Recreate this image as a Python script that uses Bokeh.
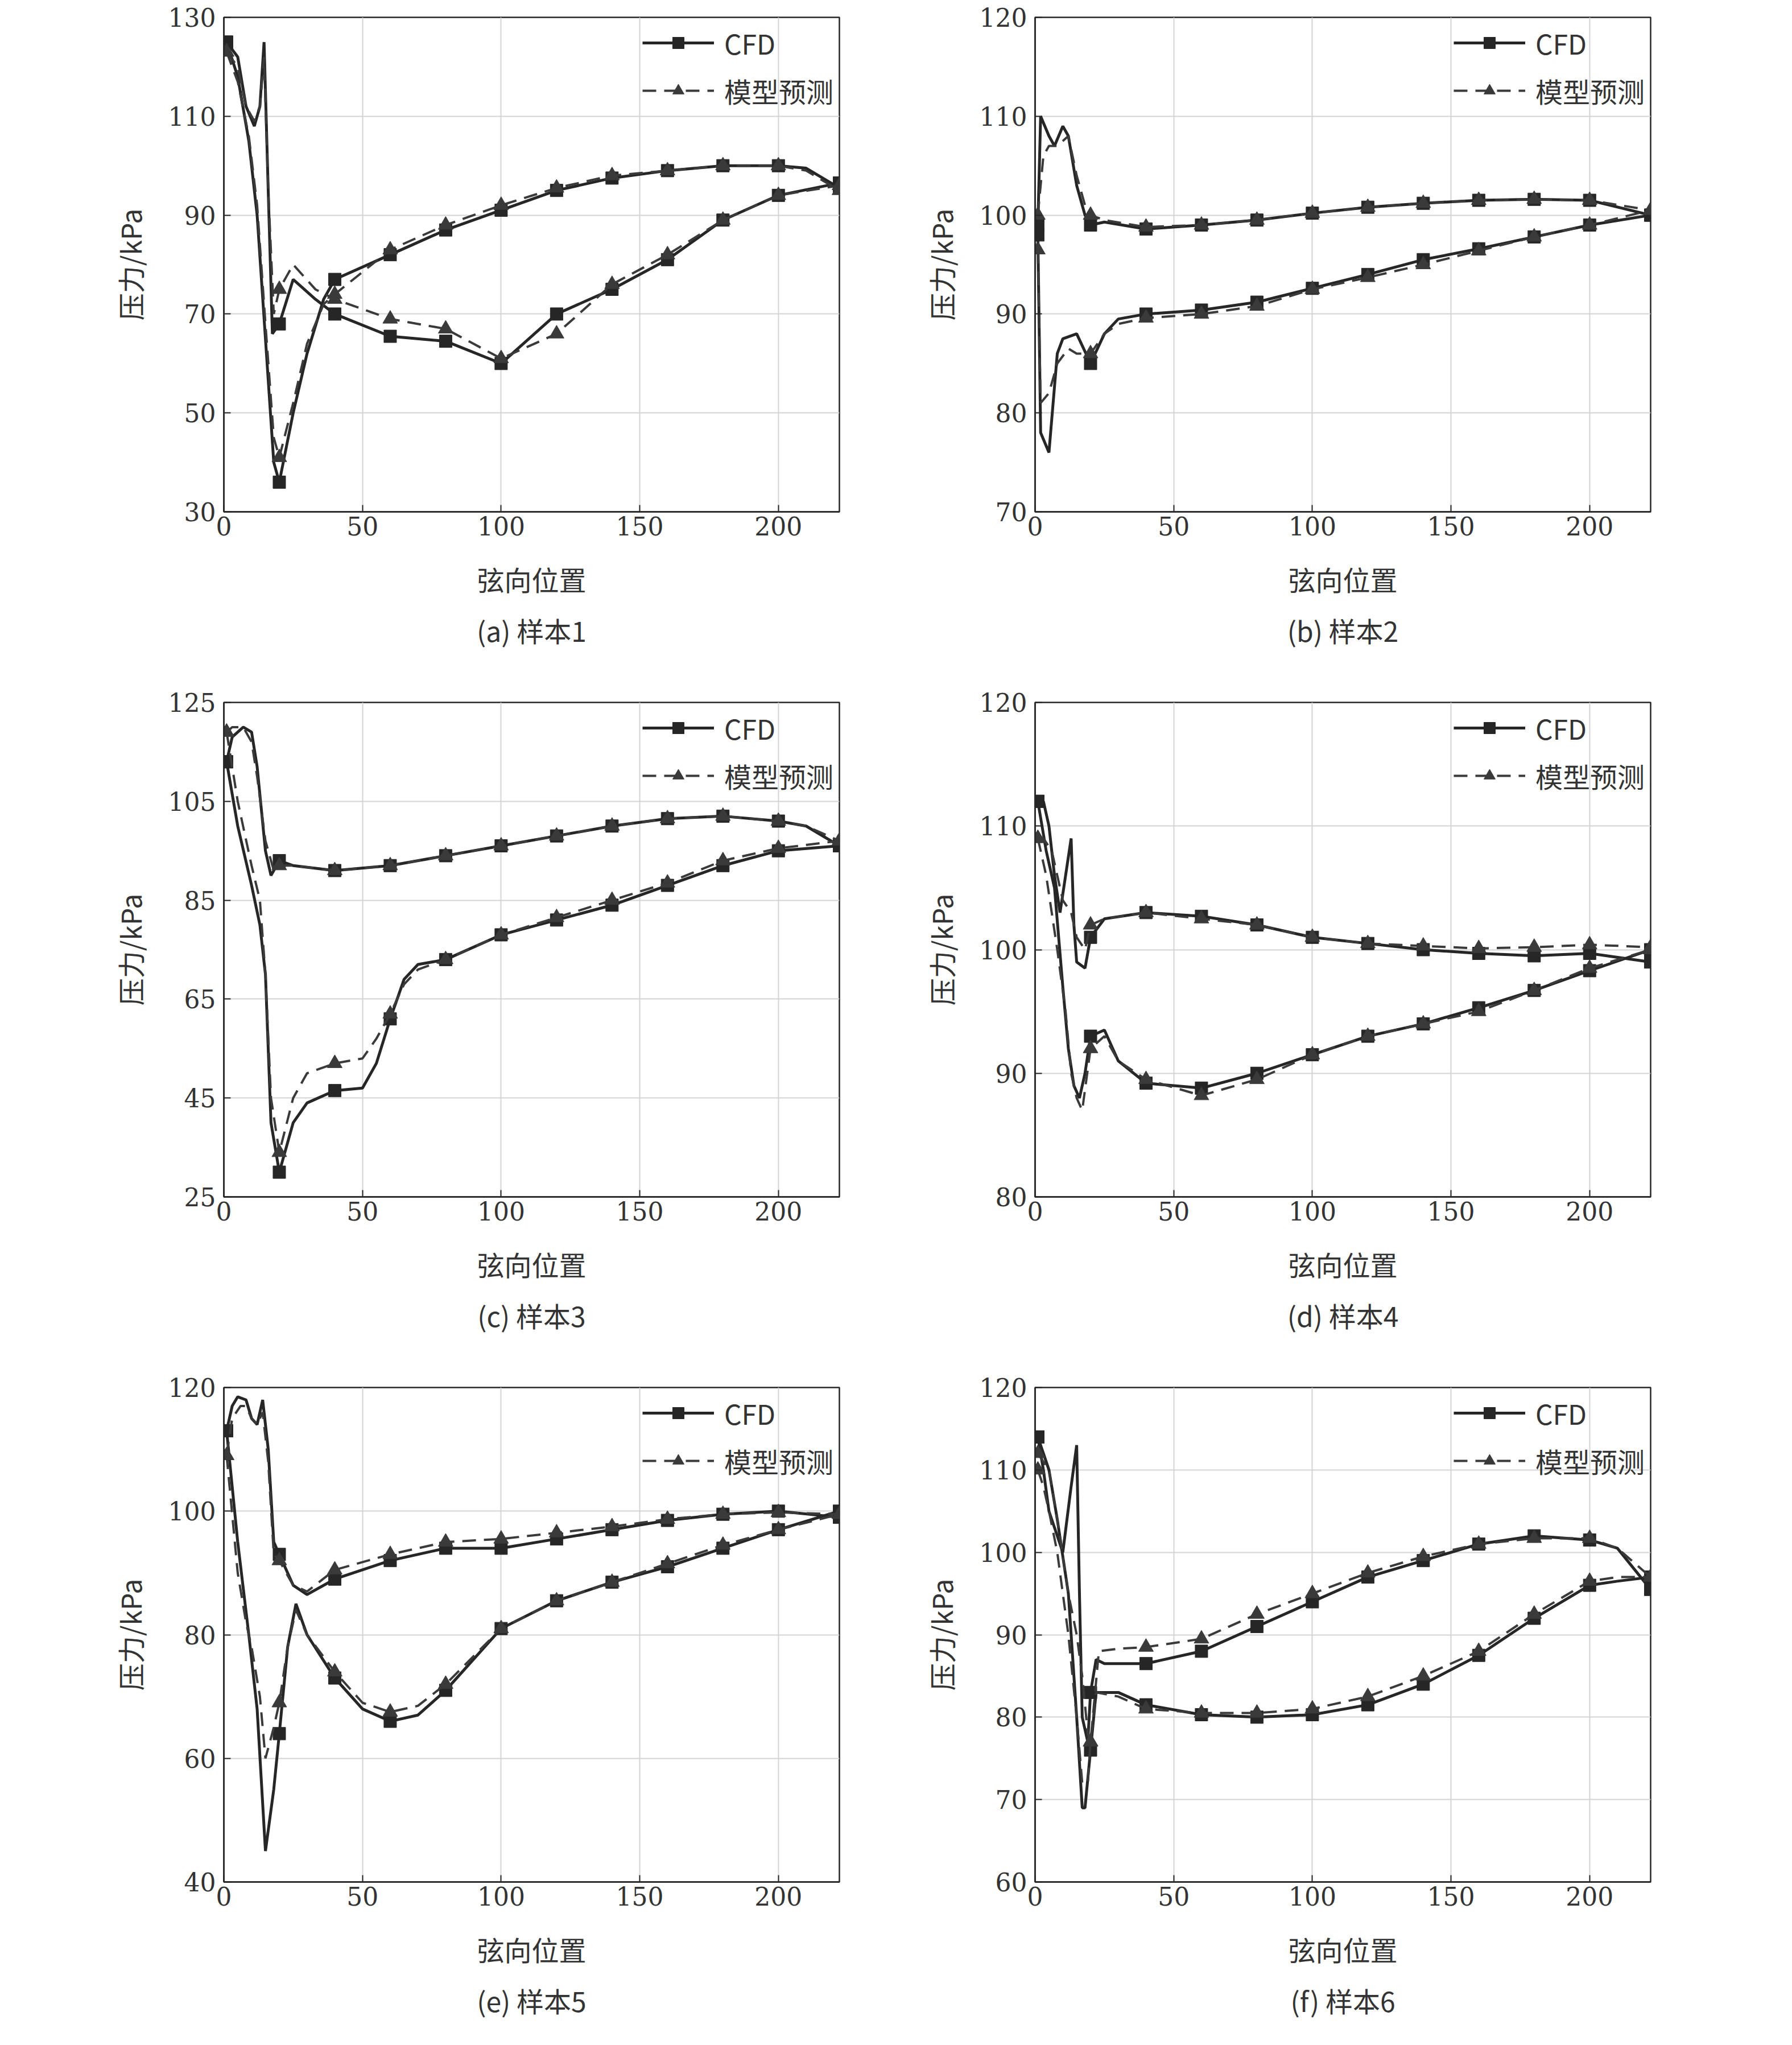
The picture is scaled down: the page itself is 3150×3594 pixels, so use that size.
from bokeh.plotting import figure
from bokeh.layouts import gridplot
from bokeh.models import FixedTicker, Legend, LegendItem, Title, Range1d
from bokeh.embed import file_html
from bokeh.resources import INLINE

# ---------------- data ----------------
captions = ["(a) 样本1", "(b) 样本2", "(c) 样本3", "(d) 样本4", "(e) 样本5", "(f) 样本6"]
y_ticks = [[30, 50, 70, 90, 110, 130], [70, 80, 90, 100, 110, 120], [25, 45, 65, 85, 105, 125],
           [80, 90, 100, 110, 120], [40, 60, 80, 100, 120], [60, 70, 80, 90, 100, 110, 120]]
x_ticks = [0, 50, 100, 150, 200]

# panel a
a_cfd_1_x = [1, 5, 8, 11, 13, 14.5, 16, 17.5, 20, 25, 33, 40, 60, 80, 100, 120, 140, 160, 180, 200, 222]
a_cfd_1_y = [125, 122, 112, 108, 112, 125, 95, 66, 68, 77, 73, 70, 65.5, 64.5, 60, 70, 75, 81, 89, 94, 96.5]
a_cfd_2_x = [1, 5, 9, 12, 15, 18, 20, 25, 30, 36, 40, 60, 80, 100, 120, 140, 160, 180, 200, 210, 222]
a_cfd_2_y = [125, 118, 105, 90, 65, 40, 36, 50, 62, 73, 77, 82, 87, 91, 95, 97.5, 99, 100, 100, 99.5, 95.5]
a_mod_1_x = [1, 5, 8, 11, 13, 14.5, 16, 18, 20, 25, 33, 40, 60, 80, 100, 120, 140, 160, 180, 200, 222]
a_mod_1_y = [123, 120, 112, 109, 112, 122, 95, 70, 75, 80, 75, 73, 69, 67, 61, 66, 76, 82, 89, 94, 96]
a_mod_2_x = [1, 5, 9, 12, 15, 18, 20, 25, 30, 36, 40, 60, 80, 100, 120, 140, 160, 180, 200, 210, 222]
a_mod_2_y = [123, 117, 106, 92, 68, 45, 41, 52, 64, 72, 74, 83, 88, 92, 95.5, 98, 99, 100, 100, 99, 95]

# panel b
b_cfd_1_x = [1, 2, 5, 7, 10, 12, 15, 18, 20, 25, 40, 60, 80, 100, 120, 140, 160, 180, 200, 222]
b_cfd_1_y = [99, 110, 108, 107, 109, 108, 103, 100, 99, 99.3, 98.6, 99, 99.5, 100.2, 100.8, 101.2, 101.5, 101.6, 101.5, 100]
b_cfd_2_x = [1, 2, 5, 8, 10, 15, 20, 25, 30, 40, 60, 80, 100, 120, 140, 160, 180, 200, 222]
b_cfd_2_y = [98, 78, 76, 86, 87.5, 88, 85, 88, 89.5, 90, 90.4, 91.2, 92.6, 94, 95.5, 96.6, 97.8, 99, 100]
b_mod_1_x = [1, 3, 5, 8, 12, 15, 18, 20, 25, 40, 60, 80, 100, 120, 140, 160, 180, 200, 222]
b_mod_1_y = [100, 106, 107, 107, 108, 104, 101, 100, 99.5, 98.8, 99, 99.5, 100.2, 100.8, 101.2, 101.5, 101.6, 101.5, 100.5]
b_mod_2_x = [1, 2, 5, 8, 12, 15, 20, 25, 30, 40, 60, 80, 100, 120, 140, 160, 180, 200, 222]
b_mod_2_y = [96.5, 81, 82, 85, 86.5, 86, 86, 88, 89, 89.6, 90, 90.8, 92.5, 93.7, 95, 96.4, 97.8, 99, 100.5]

# panel c
c_cfd_1_x = [1, 3, 7, 10, 12, 15, 17, 20, 25, 40, 60, 80, 100, 120, 140, 160, 180, 200, 210, 222]
c_cfd_1_y = [113, 118, 120, 119, 112, 95, 90, 93, 92, 91, 92, 94, 96, 98, 100, 101.5, 102, 101, 100, 96]
c_cfd_2_x = [1, 5, 10, 13, 15, 17, 20, 25, 30, 40, 50, 55, 60, 65, 70, 80, 100, 120, 140, 160, 180, 200, 222]
c_cfd_2_y = [113, 100, 88, 80, 70, 40, 30, 40, 44, 46.5, 47, 52, 61, 69, 72, 73, 78, 81, 84, 88, 92, 95, 96]
c_mod_1_x = [1, 3, 7, 10, 12, 15, 18, 20, 25, 40, 60, 80, 100, 120, 140, 160, 180, 200, 210, 222]
c_mod_1_y = [119, 120, 120, 117, 110, 97, 91, 92, 92, 91, 92, 94, 96, 98, 100, 101.5, 102, 101, 100, 97]
c_mod_2_x = [1, 5, 10, 13, 15, 17, 20, 25, 30, 40, 50, 55, 60, 65, 70, 80, 100, 120, 140, 160, 180, 200, 222]
c_mod_2_y = [119, 105, 92, 85, 70, 45, 34, 45, 50, 52, 53, 57, 62, 68, 71, 73, 78, 81.5, 85, 88.5, 93, 95.5, 97]

# panel d
d_cfd_1_x = [1, 3, 5, 7, 9, 11, 13, 14, 15, 18, 20, 25, 40, 60, 80, 100, 120, 140, 160, 180, 200, 222]
d_cfd_1_y = [112, 112, 110, 106, 103, 106, 109, 102, 99, 98.5, 101, 102.5, 103, 102.7, 102, 101, 100.5, 100, 99.7, 99.5, 99.7, 99]
d_cfd_2_x = [1, 4, 7, 10, 12, 14, 16, 18, 20, 25, 30, 40, 60, 80, 100, 120, 140, 160, 180, 200, 222]
d_cfd_2_y = [112, 108, 105, 97, 92, 89, 88, 90, 93, 93.5, 91, 89.2, 88.8, 90, 91.5, 93, 94, 95.3, 96.7, 98.3, 100]
d_mod_1_x = [1, 3, 6, 8, 10, 13, 15, 18, 20, 25, 40, 60, 80, 100, 120, 140, 160, 180, 200, 222]
d_mod_1_y = [109, 109, 108, 106, 104, 103, 101, 100, 102, 102.5, 103, 102.5, 102, 101, 100.5, 100.3, 100.1, 100.2, 100.4, 100.2]
d_mod_2_x = [1, 4, 8, 11, 13, 15, 17, 20, 25, 30, 40, 60, 80, 100, 120, 140, 160, 180, 200, 222]
d_mod_2_y = [109, 106, 100, 95, 90, 88, 87, 92, 93, 91, 89.5, 88.2, 89.5, 91.5, 93, 94, 95, 96.7, 98.5, 100]

# panel e
e_cfd_1_x = [1, 3, 5, 8, 10, 12, 14, 16, 18, 20, 25, 30, 40, 60, 80, 100, 120, 140, 160, 180, 200, 222]
e_cfd_1_y = [113, 117, 118.5, 118, 115, 114, 118, 110, 95, 93, 88, 86.5, 89, 92, 94, 94, 95.5, 97, 98.5, 99.5, 100, 99]
e_cfd_2_x = [1, 5, 9, 12, 15, 18, 20, 23, 26, 30, 40, 50, 60, 70, 80, 100, 120, 140, 160, 180, 200, 222]
e_cfd_2_y = [113, 95, 80, 68, 45, 55, 64, 78, 85, 80, 73, 68, 66, 67, 71, 81, 85.5, 88.5, 91, 94, 97, 100]
e_mod_1_x = [1, 3, 6, 8, 10, 12, 14, 16, 18, 20, 25, 30, 40, 60, 80, 100, 120, 140, 160, 180, 200, 222]
e_mod_1_y = [109, 115, 117, 117, 115, 114, 116, 108, 93, 92, 88, 87, 90.5, 93, 95, 95.5, 96.5, 97.5, 98.7, 99.5, 99.8, 99.5]
e_mod_2_x = [1, 5, 8, 10, 13, 15, 18, 20, 23, 26, 30, 40, 50, 60, 70, 80, 100, 120, 140, 160, 180, 200, 222]
e_mod_2_y = [109, 90, 82, 78, 70, 60, 65, 69, 78, 84, 80, 74, 69, 67.5, 68.5, 72, 81, 85.5, 88.5, 91.5, 94.5, 97, 99.5]

# panel f
f_cfd_1_x = [1, 3, 5, 8, 10, 13, 15, 16, 17, 19, 20, 22, 25, 40, 60, 80, 100, 120, 140, 160, 180, 200, 210, 222]
f_cfd_1_y = [114, 110, 105, 102, 100, 108, 113, 95, 80, 77, 83, 87, 86.5, 86.5, 88, 91, 94, 97, 99, 101, 102, 101.5, 100.5, 95.5]
f_cfd_2_x = [1, 3, 5, 8, 12, 15, 17, 18, 20, 22, 30, 40, 60, 80, 100, 120, 140, 160, 180, 200, 210, 222]
f_cfd_2_y = [114, 112, 110, 104, 95, 80, 69, 69, 76, 83, 83, 81.5, 80.3, 80, 80.3, 81.5, 84, 87.5, 92, 96, 96.5, 97]
f_mod_1_x = [1, 3, 5, 8, 12, 15, 17, 19, 20, 23, 30, 40, 60, 80, 100, 120, 140, 160, 180, 200, 210, 222]
f_mod_1_y = [112, 111, 110, 104, 95, 90, 85, 78, 77, 88, 88.3, 88.5, 89.5, 92.5, 95, 97.5, 99.5, 101, 101.7, 101.7, 100.5, 97]
f_mod_2_x = [1, 3, 5, 8, 12, 15, 17, 19, 20, 22, 30, 40, 60, 80, 100, 120, 140, 160, 180, 200, 210, 222]
f_mod_2_y = [110, 108, 105, 100, 90, 80, 72, 72, 77, 83, 82.5, 81, 80.5, 80.5, 81, 82.5, 85, 88, 92.5, 96.5, 97, 97]

panels = [
    (a_cfd_1_x, a_cfd_1_y, a_cfd_2_x, a_cfd_2_y, a_mod_1_x, a_mod_1_y, a_mod_2_x, a_mod_2_y),
    (b_cfd_1_x, b_cfd_1_y, b_cfd_2_x, b_cfd_2_y, b_mod_1_x, b_mod_1_y, b_mod_2_x, b_mod_2_y),
    (c_cfd_1_x, c_cfd_1_y, c_cfd_2_x, c_cfd_2_y, c_mod_1_x, c_mod_1_y, c_mod_2_x, c_mod_2_y),
    (d_cfd_1_x, d_cfd_1_y, d_cfd_2_x, d_cfd_2_y, d_mod_1_x, d_mod_1_y, d_mod_2_x, d_mod_2_y),
    (e_cfd_1_x, e_cfd_1_y, e_cfd_2_x, e_cfd_2_y, e_mod_1_x, e_mod_1_y, e_mod_2_x, e_mod_2_y),
    (f_cfd_1_x, f_cfd_1_y, f_cfd_2_x, f_cfd_2_y, f_mod_1_x, f_mod_1_y, f_mod_2_x, f_mod_2_y),
]
marker_x = [1, 20, 40, 60, 80, 100, 120, 140, 160, 180, 200, 222]

# ---------------- style ----------------
INK = "#262626"
SERIF = "DejaVu Serif"
CJK = "Noto Sans CJK SC"
PLOT_W, PLOT_H = 1082, 869


def sel(xs, ys):
    px, py = [], []
    for x, y in zip(xs, ys):
        if x in marker_x:
            px.append(x)
            py.append(y)
    return px, py


def make(i):
    col = i % 2
    last = i >= 4
    left = 393 if col == 0 else 259
    right = 85 if col == 0 else 219
    top = 30
    bottom = 270 if last else 305
    yt = y_ticks[i]
    p = figure(width=left + PLOT_W + right, height=top + PLOT_H + bottom,
               output_backend="svg", toolbar_location=None,
               x_range=Range1d(0, 222), y_range=Range1d(yt[0], yt[-1]),
               min_border_left=left, min_border_right=right,
               min_border_top=top, min_border_bottom=bottom,
               background_fill_color="white", border_fill_color="white")
    p.outline_line_color = INK
    p.outline_line_width = 2.5
    p.xgrid.grid_line_color = "#d4d4d4"
    p.ygrid.grid_line_color = "#d4d4d4"
    p.xgrid.grid_line_width = 2
    p.ygrid.grid_line_width = 2
    p.xaxis.ticker = FixedTicker(ticks=x_ticks)
    p.yaxis.ticker = FixedTicker(ticks=yt)
    for ax in (p.xaxis[0], p.yaxis[0]):
        ax.axis_line_color = INK
        ax.axis_line_width = 2.5
        ax.major_tick_in = 12
        ax.major_tick_out = 0
        ax.major_tick_line_color = INK
        ax.major_tick_line_width = 2
        ax.minor_tick_line_color = None
        ax.major_label_text_font = SERIF
        ax.major_label_text_font_size = "44px"
        ax.major_label_text_color = "#333333"
        ax.axis_label_text_font = CJK
        ax.axis_label_text_font_size = "48px"
        ax.axis_label_text_font_style = "normal"
        ax.axis_label_text_color = "#333333"
    p.xaxis.axis_label = "弦向位置"
    p.yaxis.axis_label = "压力/kPa"
    p.xaxis.axis_label_standoff = 38
    p.yaxis.axis_label_standoff = 30
    p.xaxis.major_label_standoff = 8
    p.yaxis.major_label_standoff = 14

    d = panels[i]
    items_c, items_m = [], []
    for k in (0, 2):
        xs, ys = d[k], d[k + 1]
        l = p.line(xs, ys, line_color=INK, line_width=5)
        mx, my = sel(xs, ys)
        s = p.scatter(mx, my, marker="square", size=22, fill_color=INK, line_color=INK)
        items_c += [l, s]
    for k in (4, 6):
        xs, ys = d[k], d[k + 1]
        l = p.line(xs, ys, line_color="#3a3a3a", line_width=4, line_dash="24 14")
        mx, my = sel(xs, ys)
        s = p.scatter(mx, my, marker="triangle", size=26, fill_color="#3a3a3a", line_color="#3a3a3a")
        items_m += [l, s]
    lg = Legend(items=[LegendItem(label="CFD", renderers=items_c[:2]),
                       LegendItem(label="模型预测", renderers=items_m[:2])],
                location="top_right", border_line_color=None,
                background_fill_alpha=0, label_text_font=CJK,
                label_text_font_size="48px", label_text_color="#333333",
                glyph_width=126, glyph_height=50, spacing=14,
                margin=10, padding=10, label_standoff=18)
    p.add_layout(lg)
    p.add_layout(Title(text=captions[i], align="center", text_font=CJK,
                       text_font_size="48px", text_font_style="normal",
                       text_color="#333333", standoff=30), "below")
    return p


figs = [make(i) for i in range(6)]
grid = gridplot([[figs[0], figs[1]], [figs[2], figs[3]], [figs[4], figs[5]]],
                toolbar_location=None)
open("out.html", "w").write(file_html(grid, INLINE))
